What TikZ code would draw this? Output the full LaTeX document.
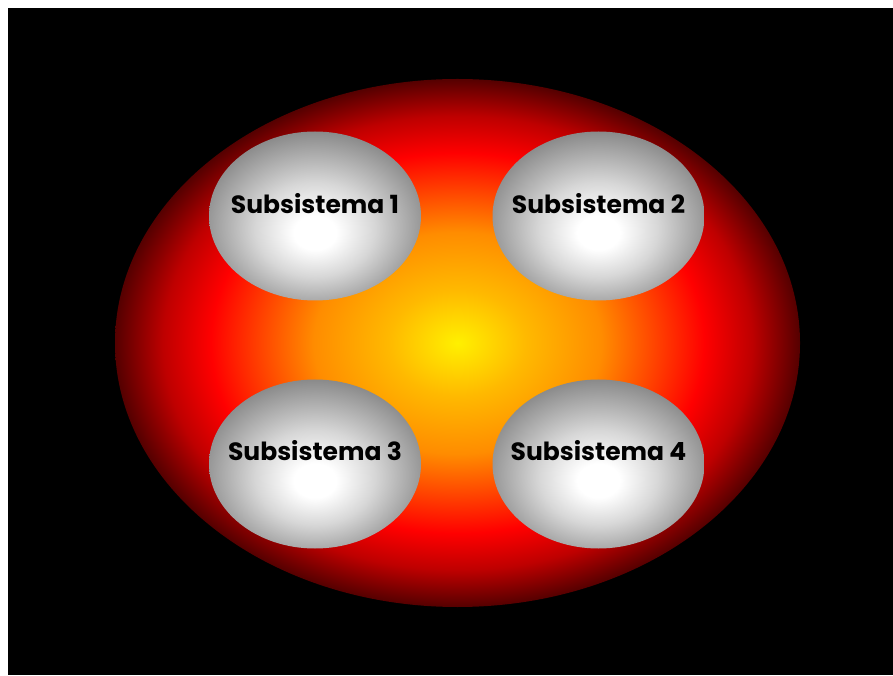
\documentclass[tikz,border=0pt]{standalone}
\usepackage{fontspec}
\setmainfont{Poppins}
\usetikzlibrary{shapes.geometric}
\definecolor{cY}{RGB}{255,240,0}
\definecolor{cYO}{RGB}{255,185,0}
\definecolor{cO}{RGB}{255,140,0}
\definecolor{cOR}{RGB}{255,75,0}
\definecolor{cR}{RGB}{255,0,0}
\definecolor{cMR}{RGB}{190,0,0}
\definecolor{cDR}{RGB}{85,0,0}
\definecolor{gW}{RGB}{255,255,255}
\definecolor{gL}{RGB}{215,215,215}
\definecolor{gE}{RGB}{135,135,135}
\pgfdeclareradialshading{fireshade}{\pgfpoint{0bp}{0bp}}{%
  color(0bp)=(cY); color(5bp)=(cYO); color(10.5bp)=(cO); color(14bp)=(cOR);
  color(18bp)=(cR); color(21.5bp)=(cMR); color(25bp)=(cDR); color(50bp)=(cDR)}
\pgfdeclareradialshading{grayshade}{\pgfpoint{0bp}{-5.5bp}}{%
  color(0bp)=(gW); color(5bp)=(gW); color(14bp)=(gL); color(28bp)=(gE); color(50bp)=(gE)}
\tikzset{
  subsys/.style={ellipse, minimum width=212pt, minimum height=169pt, inner sep=0pt,
    shading=grayshade},
  bigell/.style={ellipse, minimum width=685pt, minimum height=528pt, inner sep=0pt,
    shading=fireshade},
  lbl/.style={font=\fontsize{25}{28}\selectfont\bfseries, text=black, inner sep=0pt}
}
\begin{document}
\begin{tikzpicture}[x=1pt,y=1pt]
\useasboundingbox (0,0) rectangle (893,675);
\fill[white] (0,0) rectangle (893,675);
\fill[black] (8,0) rectangle (893,667);
\node[bigell] (big) at (457.5,332) {};
\node[subsys] (s1) at (315,459) {};
\node[subsys] (s2) at (598.5,459) {};
\node[subsys] (s3) at (315,211) {};
\node[subsys] (s4) at (598.5,211) {};
\node[lbl] (t1) at (315,471) {Subsistema 1};
\node[lbl] (t2) at (598.5,471) {Subsistema 2};
\node[lbl] (t3) at (315,224) {Subsistema 3};
\node[lbl] (t4) at (598.5,224) {Subsistema 4};
\end{tikzpicture}
\end{document}
